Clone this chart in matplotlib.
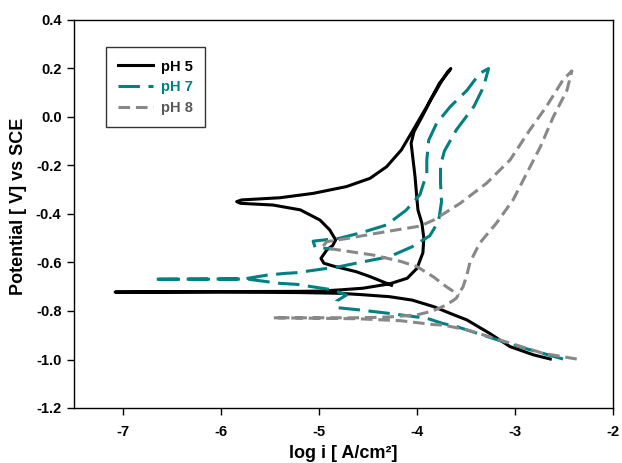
import matplotlib
matplotlib.use("Agg")
import matplotlib.pyplot as plt

plt.rcParams['font.family'] = ['Liberation Sans', 'DejaVu Sans']
plt.rcParams['font.weight'] = 'bold'

# ---- data (log i [A/cm2], potential [V vs SCE]) ----
ph5_logi = [-2.64, -2.81, -3.05, -3.26, -3.49, -3.66, -3.83, -4.05, -4.28, -4.55, -4.79, -5.2, -6.0, -7.08,
            -6.0, -5.2, -4.99, -4.79, -4.55, -4.28, -4.10, -4.0, -3.94, -3.93, -3.95, -3.99, -4.0, -4.02, -4.04, -4.06,
            -4.03, -3.95, -3.86, -3.76, -3.69, -3.655,
            -3.67, -3.77, -3.90, -4.04, -4.16, -4.31, -4.48, -4.72, -5.06, -5.40, -5.79, -5.84,
            -5.80, -5.47, -5.19, -4.99, -4.89, -4.83, -4.86, -4.92, -4.98, -4.95, -4.86, -4.62, -4.48, -4.26]
ph5_E = [-0.998, -0.981, -0.947, -0.892, -0.837, -0.810, -0.782, -0.755, -0.741, -0.733, -0.727, -0.724, -0.722, -0.722,
         -0.720, -0.719, -0.718, -0.713, -0.706, -0.688, -0.665, -0.624, -0.560, -0.50, -0.438, -0.384, -0.342, -0.246, -0.177, -0.108,
         -0.06, 0.0, 0.07, 0.14, 0.185, 0.20,
         0.19, 0.14, 0.043, -0.054, -0.136, -0.205, -0.253, -0.287, -0.315, -0.333, -0.342, -0.349,
         -0.356, -0.363, -0.383, -0.425, -0.466, -0.507, -0.530, -0.548, -0.583, -0.603, -0.614, -0.638, -0.658, -0.694]

ph7_logi = [-2.51, -3.02, -3.59, -3.74, -3.90, -4.28, -4.60, -4.82, -4.82, -4.72, -4.86, -5.23, -5.40, -5.74, -6.2, -6.69,
            -6.2, -5.77, -5.53, -5.35, -5.23, -4.79, -4.55, -4.28, -4.05, -3.87, -3.78, -3.75, -3.76, -3.76, -3.72, -3.60, -3.42, -3.32, -3.27,
            -3.36, -3.49, -3.66, -3.80, -3.88, -3.90, -3.90, -3.97, -4.11, -4.31, -4.55, -4.79, -5.06, -5.04, -4.86]
ph7_E = [-0.998, -0.94, -0.865, -0.851, -0.830, -0.810, -0.795, -0.786, -0.759, -0.734, -0.713, -0.690, -0.686, -0.668, -0.669, -0.669,
         -0.668, -0.668, -0.652, -0.645, -0.642, -0.617, -0.597, -0.576, -0.535, -0.49, -0.43, -0.35, -0.27, -0.20, -0.14, -0.054, 0.043, 0.125, 0.20,
         0.18, 0.11, 0.043, -0.026, -0.095, -0.177, -0.232, -0.320, -0.384, -0.445, -0.475, -0.500, -0.512, -0.538, -0.544]

ph8_logi = [-2.37, -2.71, -3.15, -3.49, -3.73, -3.83, -4.17, -4.28, -4.6, -5.0, -5.47,
            -5.0, -4.62, -4.3, -4.0, -3.84, -3.70, -3.60, -3.53, -3.49, -3.46, -3.36, -3.19, -3.02, -2.88, -2.74, -2.61, -2.47, -2.42,
            -2.51, -2.68, -2.85, -3.05, -3.29, -3.56, -3.83, -3.97, -4.2, -4.45, -4.7, -4.92,
            -4.95, -4.92, -4.45, -4.17, -4.0, -3.83, -3.70, -3.57]
ph8_E = [-0.998, -0.975, -0.920, -0.878, -0.858, -0.856, -0.840, -0.838, -0.832, -0.830, -0.828,
         -0.828, -0.828, -0.825, -0.816, -0.800, -0.775, -0.748, -0.700, -0.650, -0.600, -0.520, -0.438, -0.342, -0.232, -0.122, 0.0, 0.11, 0.19,
         0.153, 0.043, -0.054, -0.177, -0.273, -0.356, -0.425, -0.450, -0.465, -0.482, -0.500, -0.514,
         -0.528, -0.541, -0.569, -0.595, -0.617, -0.660, -0.700, -0.735]

labels = ["pH 5", "pH 7", "pH 8"]
colors = ["#000000", "#008080", "#888888"]
text_colors = ["#000000", "#008080", "#595959"]
xticks = [-7, -6, -5, -4, -3, -2]
yticks = [0.4, 0.2, 0.0, -0.2, -0.4, -0.6, -0.8, -1.0, -1.2]

fig = plt.figure(figsize=(6.22, 4.63), dpi=100)
ax = fig.add_axes([74/622, 1-408/463, (613-74)/622, (408-20)/463])

lw = 2.2
l5, = ax.plot(ph5_logi, ph5_E, color=colors[0], lw=lw, solid_joinstyle='round')
l7, = ax.plot(ph7_logi, ph7_E, color=colors[1], lw=lw, dashes=(7, 2.8))
l8, = ax.plot(ph8_logi, ph8_E, color=colors[2], lw=lw, dashes=(3.8, 1.9))

ax.set_xlim(-7.5, -2)
ax.set_ylim(-1.2, 0.4)
ax.set_xticks(xticks)
ax.set_yticks(yticks)
ax.set_xticklabels([f"{t:d}" for t in xticks])
ax.set_yticklabels([f"{t:.1f}" for t in yticks])
ax.tick_params(direction='out', length=5, width=1, labelsize=10.5)
ax.tick_params(axis='x', pad=7)
ax.tick_params(axis='y', pad=4)
for lab in ax.get_xticklabels() + ax.get_yticklabels():
    lab.set_fontweight('bold')
for s in ax.spines.values():
    s.set_linewidth(1.0)

ax.set_xlabel("log i [ A/cm²]", fontsize=13, fontweight='bold')
ax.set_ylabel("Potential [ V] vs SCE", fontsize=13, fontweight='bold')
ax.xaxis.set_label_coords(0.5, -0.095)
ax.yaxis.set_label_coords(-0.087, 0.52)

leg = ax.legend([l5, l7, l8], labels, loc='upper left', bbox_to_anchor=(0.059, 0.93),
                borderaxespad=0, frameon=True, fancybox=False, edgecolor='black',
                prop={'weight': 'bold', 'size': 10.5}, handlelength=2.4, handletextpad=0.55,
                labelspacing=0.45, borderpad=0.85)
leg.get_frame().set_linewidth(1.0)
for t, c in zip(leg.get_texts(), text_colors):
    t.set_color(c)

fig.savefig("out.png", dpi=100)
